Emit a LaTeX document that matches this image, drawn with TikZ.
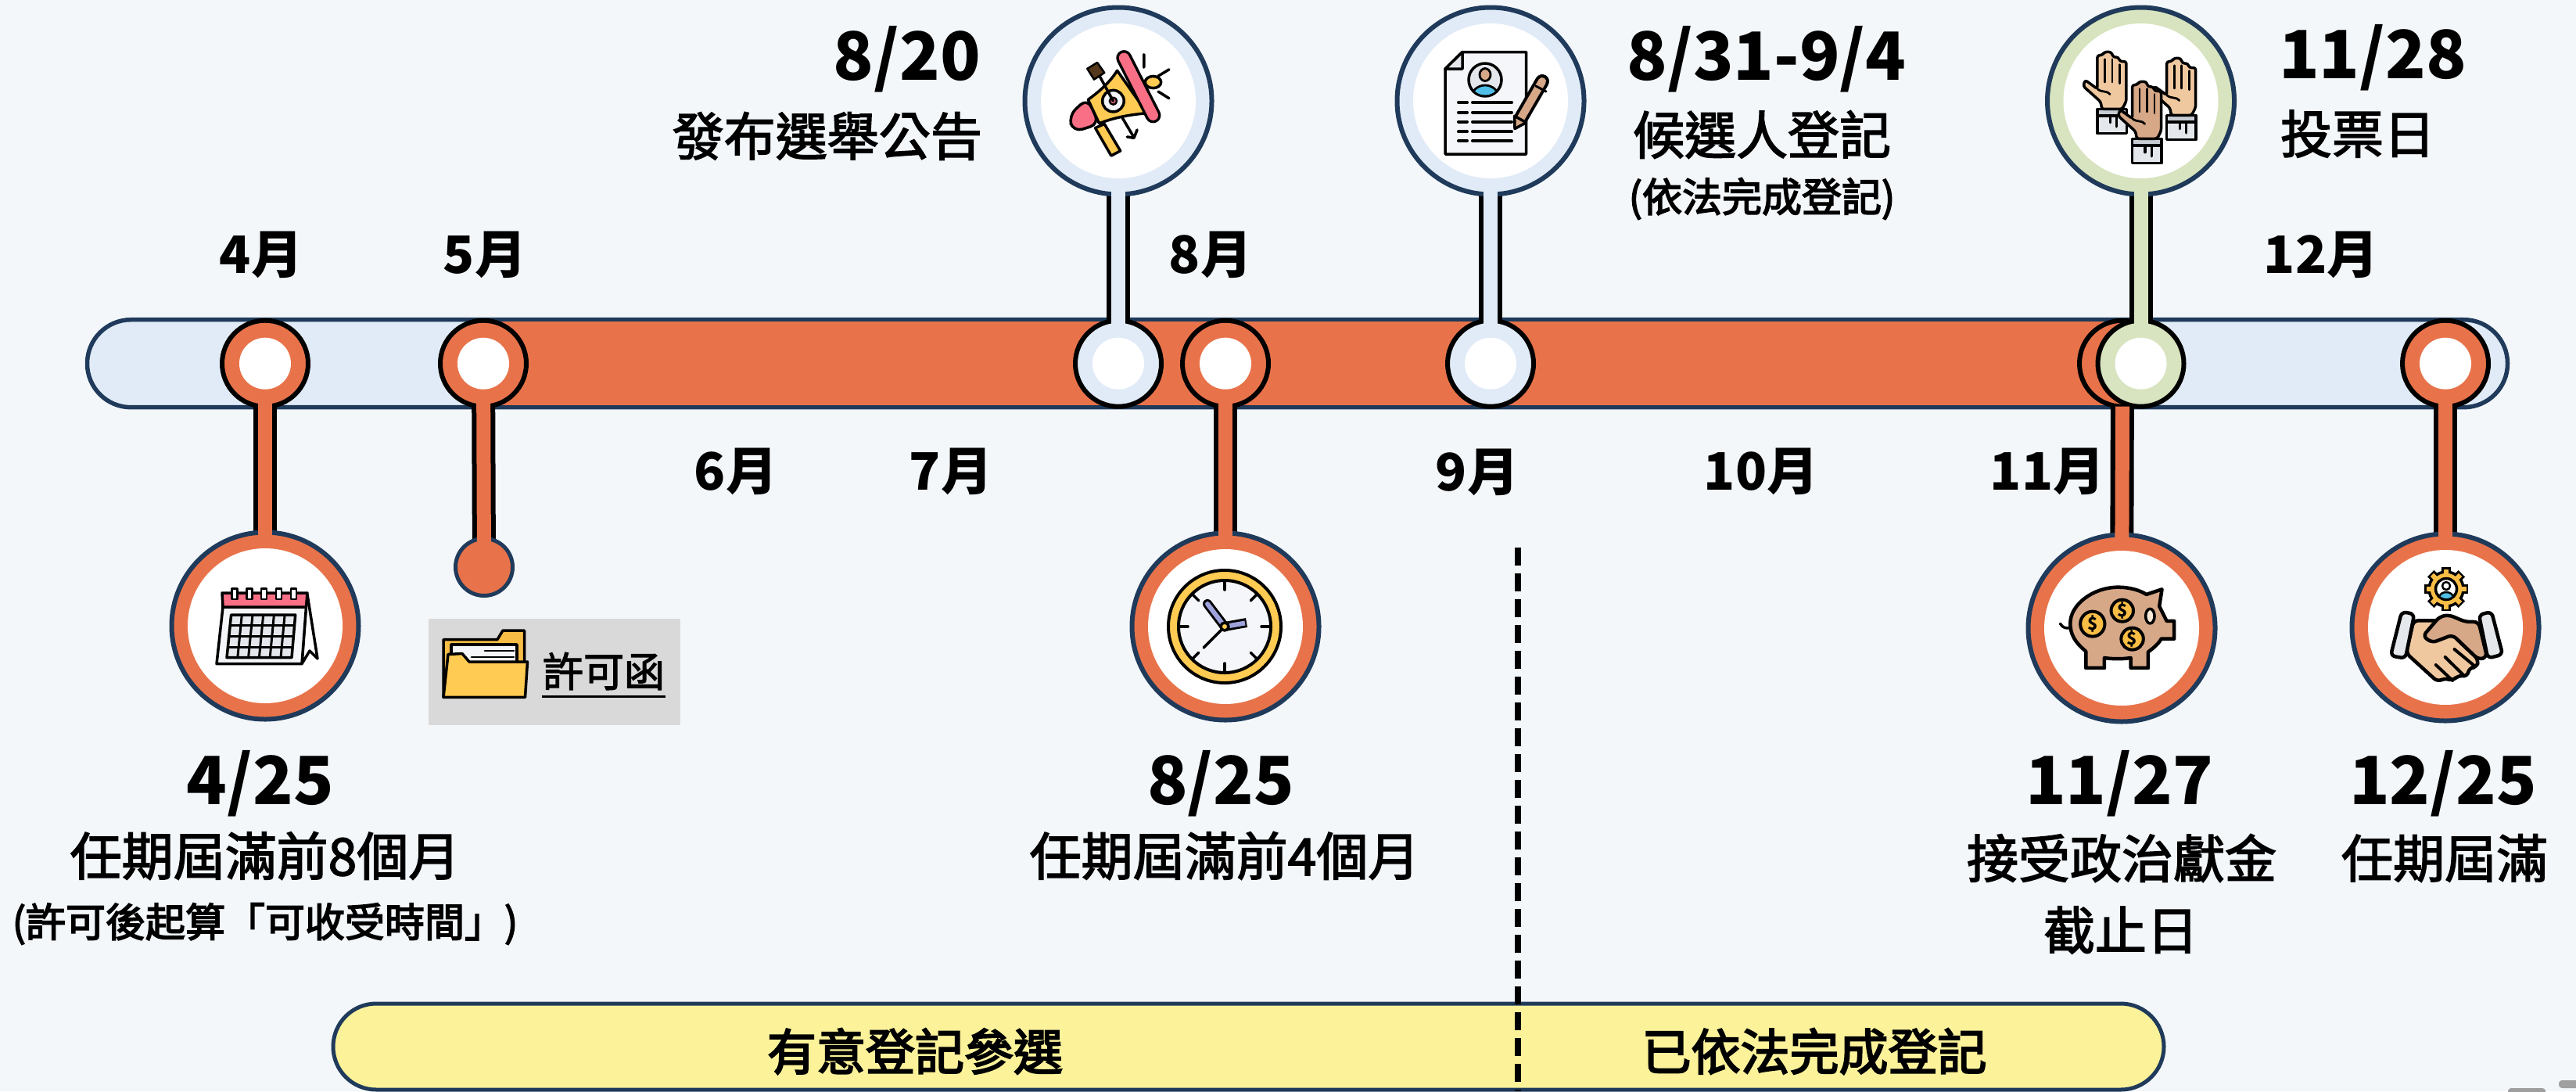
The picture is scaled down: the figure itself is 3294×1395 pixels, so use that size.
\documentclass[tikz,border=0pt]{standalone}
\usepackage{fontspec}
\setmainfont{Noto Sans CJK TC}
\newfontfamily\medf{Noto Sans CJK TC}[FakeBold=2.4]
\newfontfamily\notef{Noto Sans CJK TC}[FakeBold=3.2]
\usetikzlibrary{calc}
\pgfdeclarelayer{bgl}
\pgfdeclarelayer{stems}
\pgfdeclarelayer{top}
\pgfsetlayers{bgl,stems,main,top}
\definecolor{pagebg}{HTML}{F3F7FA}
\definecolor{navy}{HTML}{1F3A5A}
\definecolor{orangeb}{HTML}{E8734A}
\definecolor{paleblue}{HTML}{E1EBF7}
\definecolor{paleg}{HTML}{D8E4BF}
\definecolor{yell}{HTML}{FBF29A}
\definecolor{boxgrey}{HTML}{D9D9D9}
\definecolor{ygold}{HTML}{FFCB52}
\definecolor{ydark}{HTML}{F7BD45}
\definecolor{pinkr}{HTML}{F96F85}
\definecolor{skin}{HTML}{F0C8A0}
\definecolor{skind}{HTML}{D6A888}
\definecolor{papr}{HTML}{F4F6F9}
\definecolor{cuffg}{HTML}{E4E7EB}
\definecolor{cuffd}{HTML}{C7CCD3}
\definecolor{skyb}{HTML}{4FBFE8}
\tikzset{
  smalldot/.style={circle,draw=black,line width=6pt,minimum size=110pt,inner sep=0pt,outer sep=0pt},
  bigdot/.style={circle,draw=navy,line width=6pt,minimum size=239pt,inner sep=0pt,outer sep=0pt},
  whitebig/.style={circle,fill=white,minimum size=198pt,inner sep=0pt,outer sep=0pt},
  whitesmall/.style={circle,fill=white,minimum size=66pt,inner sep=0pt,outer sep=0pt},
  stemout/.style={line width=30pt,draw=black},
  stemin/.style={line width=18pt},
  monthlbl/.style={font=\fontsize{66}{72}\selectfont\bfseries,inner sep=0pt},
  datelbl/.style={font=\fontsize{85}{90}\selectfont\bfseries,inner sep=0pt},
  desclbl/.style={font=\fontsize{66}{72}\selectfont\medf,inner sep=0pt},
  notelbl/.style={font=\fontsize{51}{60}\selectfont\notef,inner sep=0pt},
  barlbl/.style={font=\fontsize{63}{70}\selectfont\notef,inner sep=0pt},
  ink/.style={draw=black,line width=3.5pt,line join=round,line cap=round},
  coinlbl/.style={font=\fontsize{22}{24}\selectfont\bfseries,inner sep=0pt},
}
\newcommand{\pinmark}[4]{% id, x, ybig, colour
  \node[smalldot,fill=#4] (s#1) at (#2,464.7) {};
  \node[bigdot,fill=#4] (b#1) at (#2,#3) {};
  \begin{pgfonlayer}{stems}\draw[stemout] (s#1.center) -- (b#1.center);\end{pgfonlayer}
  \begin{pgfonlayer}{top}
    \draw[stemin,draw=#4] (s#1.center) -- (b#1.center);
    \node[whitebig] (wb#1) at (b#1) {};
    \node[whitesmall] (ws#1) at (s#1) {};
  \end{pgfonlayer}}
\newcommand{\raisedhand}[3]{% dx, dy, colour  (zoom coordinates of the left hand)
  \begin{scope}[shift={(2550+#1,#2)},x=.4746pt,y=-.3444pt]
    \fill[cuffg] (278,405) rectangle (357,495);
    \fill[cuffd] (278,405) rectangle (357,430);
    \draw[ink] (278,405) rectangle (357,495);
    \draw[ink] (278,430) -- (357,430) (313,430) -- (313,455) (330,430) -- (330,470);
    \filldraw[ink,fill=#3,rounded corners=3pt] (290,405) -- (287,378) -- (240,320) -- (245,297) -- (278,330) -- (278,205) -- (292,205) -- (296,193) -- (316,193) -- (320,212) -- (335,212) -- (338,228) -- (356,228) -- (356,375) -- (345,405) -- cycle;
    \draw[ink,line width=2.8pt] (298,220) -- (298,305) (318,220) -- (318,305) (338,240) -- (338,310);
    \draw[ink,line width=2.8pt] (278,330) .. controls (290,345) and (305,335) .. (312,350);
  \end{scope}}
\begin{document}
\begin{tikzpicture}[x=1pt,y=-1pt]
\useasboundingbox (0,0) rectangle (3294,1395);
\begin{pgfonlayer}{bgl}
  \fill[pagebg] (0,0) rectangle (3294,1395);
  \fill[gray!75,rounded corners=4pt] (3207,1391) rectangle (3255,1400);
  \fill[gray!75,rounded corners=4pt] (3272,1381) rectangle (3300,1391);
  \node[draw=navy,line width=5.5pt,fill=paleblue,rounded corners=56pt,minimum width=3095pt,minimum height=112pt,inner sep=0pt,outer sep=0pt] (bar) at (1659,464.7) {};
  \node[fill=orangeb,minimum width=2090pt,minimum height=107pt,inner sep=0pt,outer sep=0pt] (barfill) at (1665,464.7) {};
\end{pgfonlayer}

% pins
\pinmark{a}{339}{800}{orangeb}
\node[smalldot,fill=orangeb] (sb) at (618,464.7) {};
\node[circle,draw=navy,line width=5pt,fill=orangeb,minimum size=73pt,inner sep=0pt,outer sep=0pt] (db) at (619,725) {};
\begin{pgfonlayer}{stems}\draw[stemout] (sb.center) -- (db.center);\end{pgfonlayer}
\begin{pgfonlayer}{top}
  \draw[stemin,draw=orangeb] (sb.center) -- (db.center);
  \node[whitesmall] (wsb) at (sb) {};
\end{pgfonlayer}
\pinmark{c}{1430}{129}{paleblue}
\pinmark{d}{1567}{801}{orangeb}
\pinmark{e}{1906}{129}{paleblue}
% 11/27: small dot partly hidden by the 11/28 dot
\node[smalldot,fill=orangeb] (sf) at (2714,464.7) {};
\node[bigdot,fill=orangeb] (bf) at (2713,803) {};
\begin{pgfonlayer}{stems}\draw[stemout] (sf.center) -- (bf.center);\end{pgfonlayer}
\begin{pgfonlayer}{top}
  \draw[stemin,draw=orangeb] (sf.south) -- (bf.center);
  \node[whitebig] (wbf) at (bf) {};
\end{pgfonlayer}
\pinmark{g}{2737.5}{129}{paleg}
\pinmark{h}{3127}{802}{orangeb}

\begin{pgfonlayer}{top}
% ---- calendar
\filldraw[ink,fill=white] (393,760) -- (406,842) -- (396,832) -- (386,848.6) -- (391,776) -- cycle;
\filldraw[ink,fill=papr] (285,776) -- (391.5,776) -- (386,848.6) -- (277,848.6) -- cycle;
\filldraw[ink,fill=pinkr] (284,758) -- (393,758) -- (391.5,776) -- (285,776) -- cycle;
\foreach \rx in {300,319,337.5,356.5,375.5}
  \filldraw[ink,line width=2.8pt,fill=white] (\rx-3.5,752.5) rectangle (\rx+3.5,766);
\filldraw[ink,fill=cuffg] (295.6,786) -- (377.7,786) -- (373,840.7) -- (290,840.7) -- cycle;
\foreach \t in {1,...,5} \draw[ink,line width=3pt] ({295.6+\t*13.7},786) -- ({290+\t*13.8},840.7);
\foreach \t in {1,2,3} \draw[ink,line width=3pt] ({295.6-\t*1.4},{786+\t*13.7}) -- ({377.7-\t*1.2},{786+\t*13.7});

% ---- folder and its label
\node[fill=boxgrey,minimum width=322pt,minimum height=136pt,inner sep=0pt,outer sep=0pt] (gbox) at (709,859) {};
\filldraw[ink,fill=ydark] (567,817.5) -- (636,817.5) -- (643,806) -- (670.5,806) -- (670.5,850) -- (567,891) -- cycle;
\filldraw[ink,fill=papr] (577,824) rectangle (661,850);
\draw[ink,line width=2.8pt] (620,832) -- (657,832) (603,840) -- (657,840);
\filldraw[ink,fill=ygold] (573,836.5) -- (591,835.5) -- (600,846) -- (674.5,846) -- (671.5,891.4) -- (567,891.4) -- cycle;
\node[font=\fontsize{52}{58}\selectfont\medf,inner sep=0pt,outer sep=0pt,minimum width=158pt] (pm) at (772,858) {許可函};
\coordinate (pma) at (693,890.5);
\coordinate (pmb) at (851,890.5);
\draw[line width=3.5pt] (pma) -- (pmb);

% ---- megaphone
\begin{scope}[shift={(1250,0)},x=.5102pt,y=-.3444pt]
  \filldraw[ink,fill=ygold] (440,305) ellipse [x radius=20,y radius=22];
  \filldraw[ink,fill=ygold] (295,475) -- (335,578) -- (358,560) -- (318,460) -- cycle;
  \filldraw[ink,fill=pinkr,rounded corners=12pt] (275,365) -- (228,430) -- (240,490) -- (305,460) -- cycle;
  \filldraw[ink,fill=ygold] (350,262) .. controls (330,310) and (300,345) .. (277,370) -- (305,458) .. controls (345,435) and (385,425) .. (425,420) -- cycle;
  \draw[line width=20pt,line cap=round,draw=black] (367,215) -- (440,428);
  \draw[line width=13pt,line cap=round,draw=pinkr] (367,215) -- (440,428);
  \filldraw[ink,fill=papr] (340,375) ellipse [x radius=27,y radius=40];
  \filldraw[ink,line width=2.5pt,fill=pinkr] (340,375) ellipse [x radius=9,y radius=13];
  \draw[ink] (305,280) -- (340,375);
  \filldraw[ink,line width=2.5pt,fill=black!55!brown] (275,255) -- (300,232) -- (318,270) -- (292,295) -- cycle;
  \draw[ink] (362,435) -- (392,510) (375,508) -- (392,512) -- (400,482);
  \draw[ink] (417,202) -- (417,250) (453,282) -- (480,258) (453,340) -- (480,365);
\end{scope}

% ---- clock
\filldraw[draw=black,line width=4pt,fill=ygold] (1566,801) circle [radius=72];
\filldraw[draw=black,line width=4pt,fill=papr] (1566,801) circle [radius=59];
\foreach \ang in {0,45,...,315}
  \draw[ink] ($(1566,801)+(\ang:57)$) -- ($(1566,801)+(\ang:47)$);
\draw[line width=12pt,line cap=round,draw=black] (1566,801) -- (1544,772);
\draw[line width=6pt,line cap=round,draw=cuffd!80!blue] (1563,797) -- (1544,772);
\draw[line width=12pt,draw=black] (1566,801) -- (1594,796);
\draw[line width=6pt,draw=cuffd!80!blue] (1572,800) -- (1592,796.5);
\draw[ink] (1566,801) -- (1539,828);
\filldraw[ink,fill=ygold] (1566,801) circle [radius=5];

% ---- resume
\filldraw[ink,fill=papr] (1848,88) -- (1870,66.5) -- (1951.5,66.5) -- (1951.5,197) -- (1848,197) -- cycle;
\filldraw[ink,fill=cuffg] (1870,66.5) -- (1870,88) -- (1848,88) -- cycle;
\filldraw[ink,fill=cuffg] (1899,102) circle [radius=21];
\begin{scope}
  \clip (1899,102) circle [radius=19.5];
  \filldraw[ink,line width=2.8pt,fill=skyb] (1899,124) ellipse [x radius=17,y radius=15];
\end{scope}
\filldraw[ink,line width=2.8pt,fill=skind] (1899,95.5) ellipse [x radius=7,y radius=8];
\foreach \ly in {131,143.6,155.6,168.4,180}
  \draw[ink,line width=4pt] (1865,\ly) -- (1876,\ly) (1883,\ly) -- (1933,\ly);
\draw[line width=18pt,line cap=round,draw=black] (1944,152.4) -- (1972,104);
\draw[line width=10pt,line cap=round,draw=skind] (1944,152.4) -- (1972,104);
\draw[ink,line width=3pt] (1964,110) -- (1977,117);
\filldraw[ink,fill=skind] (1937,164.6) -- (1936.6,148.2) -- (1951.4,156.6) -- cycle;

% ---- three raised hands
\raisedhand{0}{0}{skin}
\raisedhand{88.7}{8}{skin}
\raisedhand{44.6}{37.9}{skind}

% ---- piggy bank
\begin{scope}[shift={(2550,640)},x=.4746pt,y=-.3333pt]
  \draw[ink] (178,472) .. controls (185,490) and (195,490) .. (207,488);
  \filldraw[ink,line width=4.5pt,fill=skind] (247,578) .. controls (215,540) and (205,510) .. (205,470) .. controls (205,400) and (265,332) .. (335,332) .. controls (365,332) and (395,345) .. (410,360) -- (452,340) -- (445,405) -- (465,462) -- (485,462) -- (485,530) -- (450,530) .. controls (445,545) and (430,565) .. (415,580) -- (415,642) -- (368,642) -- (368,603) .. controls (345,608) and (320,608) .. (297,603) -- (297,642) -- (247,642) -- cycle;
  \filldraw[ink,fill=skin!40] (420,443) ellipse [x radius=12,y radius=28];
  \filldraw[ink,line width=4pt,fill=ydark] (265,473) ellipse [x radius=33,y radius=48];
  \filldraw[ink,line width=4pt,fill=ydark] (345,422) ellipse [x radius=30,y radius=42];
  \filldraw[ink,line width=4pt,fill=ydark] (372,530) ellipse [x radius=30,y radius=42];
  \node[coinlbl] (c1) at (265,473) {\$};
  \node[coinlbl] (c2) at (345,422) {\$};
  \node[coinlbl] (c3) at (372,530) {\$};
\end{scope}

% ---- handshake with gear
\foreach \ang in {0,45,...,315}
  \draw[line width=12pt,draw=black] ($(3128,753)+(\ang:17)$) -- ($(3128,753)+(\ang:28)$);
\filldraw[draw=black,line width=3.5pt,fill=ydark] (3128,753) circle [radius=22];
\foreach \ang in {0,45,...,315}
  \draw[line width=6pt,draw=ydark] ($(3128,753)+(\ang:17)$) -- ($(3128,753)+(\ang:25.5)$);
\filldraw[ink,fill=white] (3128,753) circle [radius=13.5];
\filldraw[ink,line width=2.5pt,fill=white] (3128,749) circle [radius=5];
\begin{scope}
  \clip (3128,753) circle [radius=12];
  \filldraw[ink,line width=2.5pt,fill=skyb] (3128,764) ellipse [x radius=9,y radius=7];
\end{scope}
\begin{scope}[shift={(2550,640)},x=.4746pt,y=-.3333pt]
  \filldraw[ink,line width=4.5pt,fill=skin,rounded corners=6pt] (1130,460) -- (1200,460) -- (1235,515) -- (1305,610) -- (1300,640) -- (1280,640) -- (1275,675) -- (1250,670) -- (1235,692) -- (1215,680) -- (1195,695) -- (1110,585) -- cycle;
  \filldraw[ink,line width=4.5pt,fill=skind,rounded corners=6pt] (1225,438) -- (1270,465) -- (1305,465) -- (1328,600) -- (1305,610) -- (1235,515) -- (1180,545) -- (1155,520) -- (1200,445) -- cycle;
  \draw[ink,line width=4pt] (1190,630) -- (1235,690) (1215,600) -- (1265,670) (1240,570) -- (1295,635);
  \filldraw[ink,line width=4.5pt,fill=cuffg,rounded corners=6pt] (1098,426) -- (1132,435) -- (1108,605) -- (1068,595) -- cycle;
  \filldraw[ink,line width=4.5pt,fill=cuffg,rounded corners=6pt] (1340,426) -- (1306,438) -- (1330,605) -- (1370,590) -- cycle;
\end{scope}
\end{pgfonlayer}

% ---- yellow period bar
\node[draw=navy,line width=5pt,fill=yell,rounded corners=55pt,minimum width=2341pt,minimum height=110pt,inner sep=0pt,outer sep=0pt] (period) at (1596.5,1338) {};
\coordinate (dashtop) at (1941,700);
\coordinate (dashbot) at (1941,1395);
\draw[line width=8pt,dash pattern=on 23pt off 10pt] (dashtop) -- (dashbot);
\node[barlbl] (p1) at (1170,1344) {有意登記參選};
\node[barlbl] (p2) at (2320,1344) {已依法完成登記};

% ---- month labels
\node[monthlbl] (m4) at (334,326) {4月};
\node[monthlbl] (m5) at (620,326) {5月};
\node[monthlbl] (m8) at (1548,326) {8月};
\node[monthlbl] (m12) at (2968,326) {12月};
\node[monthlbl] (m6) at (941,603) {6月};
\node[monthlbl] (m7) at (1216,603) {7月};
\node[monthlbl] (m9) at (1889,604) {9月};
\node[monthlbl] (m10) at (2252,603) {10月};
\node[monthlbl] (m11) at (2618,603) {11月};

% ---- top captions
\node[datelbl,anchor=east] (t1) at (1254,76) {8/20};
\node[desclbl,anchor=east] (t2) at (1256,174) {發布選舉公告};
\node[datelbl] (t3) at (2259,76) {8/31-9/4};
\node[desclbl] (t4) at (2253,172) {候選人登記};
\node[notelbl] (t5) at (2253,254) {(依法完成登記)};
\node[datelbl] (t6) at (3034,74) {11/28};
\node[desclbl] (t7) at (3015,171) {投票日};

% ---- bottom captions
\node[datelbl] (u1) at (333,1002) {4/25};
\node[desclbl] (u2) at (339,1094) {任期屆滿前8個月};
\node[notelbl] (u3) at (339,1181) {(許可後起算「可收受時間」)};
\node[datelbl] (u4) at (1561,1002) {8/25};
\node[desclbl] (u5) at (1566,1094) {任期屆滿前4個月};
\node[datelbl] (u6) at (2710,1002) {11/27};
\node[desclbl] (u7) at (2713,1097) {接受政治獻金};
\node[desclbl] (u8) at (2712,1189) {截止日};
\node[datelbl] (u9) at (3124,1002) {12/25};
\node[desclbl] (u10) at (3126,1097) {任期屆滿};
\end{tikzpicture}
\end{document}
